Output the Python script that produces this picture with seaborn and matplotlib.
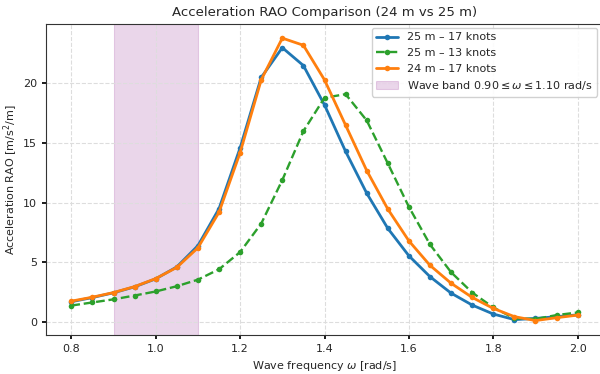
import numpy as np
import pandas as pd
import matplotlib
matplotlib.use("Agg")
import matplotlib.pyplot as plt
import seaborn as sns

omega = [0.80, 0.85, 0.90, 0.95, 1.00, 1.05, 1.10, 1.15, 1.20, 1.25, 1.30, 1.35, 1.40,
         1.45, 1.50, 1.55, 1.60, 1.65, 1.70, 1.75, 1.80, 1.85, 1.90, 1.95, 2.00]

rao_25m_17kn = [1.70, 2.05, 2.45, 2.95, 3.62, 4.62, 6.40, 9.50, 14.6, 20.5, 23.0, 21.5, 18.2,
                14.3, 10.8, 7.85, 5.55, 3.80, 2.42, 1.42, 0.67, 0.20, 0.30, 0.45, 0.60]
rao_25m_13kn = [1.38, 1.64, 1.90, 2.22, 2.56, 3.00, 3.55, 4.42, 5.86, 8.25, 11.9, 16.0, 18.8,
                19.1, 16.9, 13.3, 9.65, 6.50, 4.17, 2.47, 1.22, 0.30, 0.25, 0.58, 0.80]
rao_24m_17kn = [1.75, 2.08, 2.47, 2.97, 3.64, 4.58, 6.22, 9.20, 14.2, 20.3, 23.8, 23.2, 20.3,
                16.5, 12.7, 9.47, 6.80, 4.75, 3.25, 2.06, 1.14, 0.45, 0.12, 0.36, 0.58]

series_names = ["25 m – 17 knots", "25 m – 13 knots", "24 m – 17 knots"]
band_lo, band_hi = 0.90, 1.10

df = pd.DataFrame({
    "omega": omega * 3,
    "rao": rao_25m_17kn + rao_25m_13kn + rao_24m_17kn,
    "case": sum([[n] * len(omega) for n in series_names], []),
})

sns.set_theme(style="whitegrid")
plt.rcParams["font.family"] = ["DejaVu Sans"]

fig = plt.figure(figsize=(6.0, 3.74), dpi=100)
ax = fig.add_axes([46 / 600, 1 - 334.7 / 374, (603 - 46) / 600, (334.7 - 24) / 374])

ax.axvspan(band_lo, band_hi, facecolor="purple", alpha=0.16, edgecolor="purple", lw=0.8,
           label=r"Wave band $0.90 \leq \omega \leq 1.10$ rad/s", zorder=0)

palette = {series_names[0]: "#1f77b4", series_names[1]: "#2ca02c", series_names[2]: "#ff7f0e"}
styles = {series_names[0]: "-", series_names[1]: "--", series_names[2]: "-"}
widths = {series_names[0]: 2.0, series_names[1]: 1.7, series_names[2]: 2.0}

for name in series_names:
    sub = df[df["case"] == name]
    sns.lineplot(data=sub, x="omega", y="rao", ax=ax, color=palette[name],
                 linestyle=styles[name], linewidth=widths[name], marker="o",
                 markersize=4, markeredgewidth=0, label=name, zorder=3)

h, l = ax.get_legend_handles_labels()
order = [l.index(n) for n in series_names] + [i for i, x in enumerate(l) if x.startswith("Wave")]
ax.legend([h[i] for i in order], [l[i] for i in order], loc="upper right",
          bbox_to_anchor=(597 / 600, 1 - 28 / 374), bbox_transform=fig.transFigure,
          fontsize=8, frameon=True, framealpha=0.9, edgecolor="#cccccc",
          borderpad=0.4, handlelength=2.0, borderaxespad=0)

ax.set_xlim(0.74, 2.06)
ax.set_title("Acceleration RAO Comparison (24 m vs 25 m)", fontsize=9.5)
ax.set_xlabel(r"Wave frequency $\omega$ [rad/s]", fontsize=8)
ax.set_ylabel(r"Acceleration RAO [m/s$^2$/m]", fontsize=8, labelpad=2)
ax.tick_params(axis="both", labelsize=8, length=3, color="black", bottom=True, left=True)
ax.grid(True, linestyle="--", color="#dddddd", linewidth=0.8)
ax.set_facecolor("white")
for s in ax.spines.values():
    s.set_edgecolor("#333333")
    s.set_linewidth(0.8)

fig.savefig("out.png", dpi=100)
